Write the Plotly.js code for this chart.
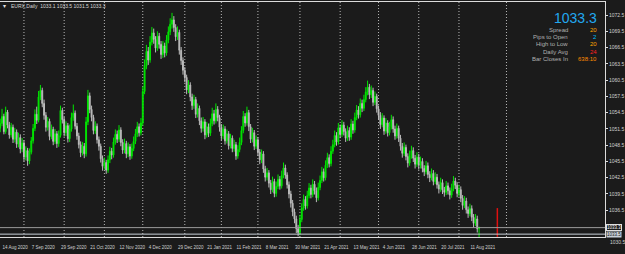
<!DOCTYPE html>
<html><head><meta charset="utf-8">
<script src="https://cdn.plot.ly/plotly-3.0.1.min.js"></script>
<style>html,body{margin:0;padding:0;background:#1b1b1b;overflow:hidden}#chart{width:625px;height:254px}</style>
</head><body><div id="chart"></div>
<script>
// ---- data (EURX daily) ----
const opens = [
1051.6,1052.5,1053.8,1051.0,1054.6,1052.2,1050.4,1051.8,1049.6,1050.9,
1048.7,1049.9,1047.8,1048.9,1046.3,1047.5,1045.6,1047.2,1049.3,1051.6,
1054.2,1053.1,1057.4,1058.6,1056.2,1054.0,1051.8,1052.9,1050.1,1051.4,
1049.2,1050.6,1048.8,1050.3,1054.9,1053.2,1050.8,1052.1,1049.7,1051.5,
1053.6,1054.4,1052.0,1050.2,1048.6,1047.1,1048.3,1046.9,1052.8,1057.6,
1055.1,1053.6,1051.2,1052.0,1049.5,1048.3,1046.0,1044.6,1045.3,1043.9,
1045.8,1047.4,1046.7,1049.1,1050.5,1049.6,1051.3,1049.0,1047.6,1048.8,
1046.9,1048.2,1046.5,1047.9,1049.2,1050.6,1051.9,1050.8,1052.6,1058.4,
1063.1,1065.8,1064.2,1067.5,1069.2,1068.0,1066.4,1068.6,1067.1,1065.2,
1066.8,1065.5,1067.9,1069.4,1070.8,1071.6,1070.2,1068.5,1069.3,1066.0,
1064.1,1062.3,1061.0,1058.7,1059.6,1057.4,1055.8,1056.9,1054.2,1055.3,
1053.0,1051.6,1052.8,1050.4,1051.9,1050.7,1052.5,1054.3,1053.0,1055.1,
1053.6,1051.8,1050.2,1051.5,1049.3,1050.6,1048.4,1049.8,1047.9,1048.6,
1046.5,1047.7,1049.0,1051.2,1053.8,1052.6,1054.5,1051.9,1049.6,1050.8,
1048.3,1049.5,1047.2,1045.8,1046.9,1044.1,1042.6,1043.4,1041.5,1040.3,
1041.8,1039.6,1040.9,1042.2,1041.0,1042.9,1044.3,1043.0,1041.2,1039.5,
1037.8,1036.2,1034.9,1033.1,1032.4,1034.8,1036.9,1038.5,1037.3,1039.2,
1040.6,1039.4,1041.3,1040.1,1038.8,1040.7,1042.0,1043.6,1042.5,1044.8,
1046.2,1045.1,1047.4,1048.6,1050.3,1049.1,1051.7,1050.5,1052.2,1051.0,
1049.8,1051.2,1050.0,1052.4,1051.3,1053.6,1055.0,1054.1,1056.2,1055.3,
1056.9,1058.3,1059.2,1057.8,1058.6,1056.4,1057.5,1055.2,1054.0,1052.3,
1053.5,1051.1,1052.6,1050.8,1051.9,1053.2,1051.5,1050.2,1051.6,1049.8,
1048.3,1047.0,1048.1,1046.4,1045.2,1046.6,1047.5,1046.1,1045.0,1046.3,
1044.8,1045.5,1044.2,1043.6,1044.7,1043.1,1042.5,1043.3,1041.8,1042.6,
1041.2,1040.4,1041.6,1040.2,1039.8,1041.0,1040.1,1039.3,1040.5,1041.9,
1041.1,1039.6,1040.3,1038.7,1037.4,1038.2,1036.6,1035.9,1036.8,1035.2,
1034.1,1034.9,1033.1];
const highs = [
1053.4,1055.2,1054.3,1055.6,1055.0,1052.8,1052.6,1052.3,1051.7,1051.4,
1050.8,1050.5,1049.8,1049.4,1048.3,1048.0,1047.9,1050.0,1052.4,1055.1,
1055.6,1058.5,1059.6,1059.1,1056.9,1054.6,1053.7,1053.4,1052.3,1051.9,
1051.5,1051.1,1051.2,1055.8,1055.4,1053.7,1052.9,1052.6,1052.3,1054.5,
1056.0,1054.9,1052.6,1050.8,1049.2,1049.1,1048.9,1053.7,1058.7,1058.2,
1055.8,1054.1,1052.9,1052.5,1050.1,1048.8,1046.6,1046.2,1045.8,1046.6,
1048.2,1048.0,1049.9,1051.4,1051.2,1052.2,1051.8,1049.6,1049.7,1049.3,
1049.0,1048.7,1048.8,1050.1,1051.5,1052.8,1052.5,1053.5,1059.3,1064.3,
1067.0,1066.6,1068.6,1070.3,1070.0,1068.6,1069.5,1069.2,1067.7,1067.7,
1067.4,1068.8,1070.4,1071.9,1072.9,1072.3,1070.8,1070.4,1069.8,1066.6,
1064.7,1062.9,1061.5,1060.5,1060.1,1058.0,1057.8,1057.4,1056.2,1055.8,
1053.6,1053.7,1053.3,1052.8,1052.5,1053.4,1055.4,1055.0,1056.2,1055.7,
1054.1,1052.4,1052.3,1052.0,1051.4,1051.1,1050.6,1050.3,1049.5,1049.1,
1048.5,1049.9,1052.0,1054.8,1054.4,1055.6,1055.0,1052.4,1051.7,1051.3,
1050.3,1050.0,1047.8,1047.7,1047.4,1044.7,1044.3,1043.9,1042.1,1042.7,
1042.3,1041.8,1043.1,1042.8,1043.8,1045.3,1044.9,1043.5,1041.8,1040.1,
1038.4,1036.8,1035.5,1033.8,1035.6,1037.8,1039.4,1039.1,1040.1,1041.5,
1041.2,1042.2,1041.9,1040.7,1041.6,1042.9,1044.5,1044.2,1045.7,1047.1,
1046.8,1048.3,1049.5,1051.2,1050.9,1052.6,1052.3,1053.1,1052.8,1051.6,
1052.1,1051.8,1053.3,1053.0,1054.5,1055.9,1055.7,1057.1,1056.9,1057.8,
1059.2,1060.4,1059.8,1059.5,1059.1,1058.4,1058.0,1055.8,1054.6,1054.4,
1054.0,1053.5,1053.1,1052.8,1054.1,1053.8,1052.1,1052.5,1052.1,1050.4,
1048.9,1049.0,1048.6,1047.0,1047.5,1048.4,1048.1,1046.7,1047.2,1046.9,
1046.4,1046.1,1044.8,1045.6,1045.3,1043.7,1044.2,1043.9,1043.5,1043.2,
1041.8,1042.5,1042.2,1040.8,1041.9,1041.6,1040.7,1041.4,1042.8,1042.5,
1041.7,1041.2,1040.9,1039.3,1039.1,1038.8,1037.2,1037.7,1037.4,1035.8,
1035.8,1035.5,1033.5];
const lows = [
1050.9,1052.0,1050.5,1050.6,1051.6,1049.7,1049.9,1048.9,1049.0,1048.0,
1048.1,1047.0,1047.2,1045.5,1045.7,1044.7,1045.0,1046.8,1048.8,1051.1,
1052.4,1052.7,1056.8,1055.5,1053.2,1051.0,1051.2,1049.4,1049.6,1048.5,
1048.7,1048.0,1048.2,1049.9,1052.5,1050.1,1050.2,1049.0,1049.1,1051.0,
1053.0,1051.4,1049.5,1047.9,1046.3,1046.6,1046.1,1046.4,1052.2,1054.4,
1052.9,1050.5,1050.6,1048.8,1047.5,1045.3,1043.8,1044.0,1043.2,1043.4,
1045.2,1045.9,1046.2,1048.6,1048.9,1049.1,1048.3,1046.9,1047.0,1046.1,
1046.3,1045.8,1046.0,1047.4,1048.7,1050.0,1050.1,1050.3,1052.1,1057.9,
1062.5,1063.3,1063.7,1066.9,1067.2,1065.6,1065.9,1066.3,1064.4,1064.6,
1064.7,1065.0,1067.3,1068.8,1070.0,1069.4,1067.7,1067.9,1065.2,1063.3,
1061.5,1060.1,1057.9,1058.1,1056.6,1055.0,1055.2,1053.5,1053.6,1052.2,
1050.8,1051.0,1049.6,1049.9,1050.0,1050.2,1052.0,1052.3,1052.5,1052.9,
1051.0,1049.4,1049.6,1048.6,1048.8,1047.7,1047.9,1047.2,1047.3,1045.8,
1046.0,1047.2,1048.5,1050.7,1051.9,1052.1,1051.1,1048.9,1049.0,1047.6,
1047.8,1046.5,1045.0,1045.2,1043.4,1041.8,1042.0,1040.7,1039.5,1039.8,
1038.9,1039.0,1040.4,1040.3,1040.5,1042.4,1042.3,1040.5,1038.7,1037.0,
1035.4,1034.1,1032.3,1031.7,1031.9,1034.3,1036.4,1036.6,1036.8,1038.7,
1038.7,1038.9,1039.4,1038.0,1038.3,1040.2,1041.5,1041.8,1042.0,1044.3,
1044.4,1044.6,1046.9,1048.1,1048.4,1048.6,1049.8,1050.0,1050.3,1049.1,
1049.3,1049.3,1049.5,1050.6,1050.8,1053.1,1053.4,1053.6,1054.6,1054.8,
1056.4,1057.7,1057.0,1057.2,1055.7,1055.9,1054.5,1053.2,1051.5,1051.8,
1050.4,1050.6,1050.1,1050.3,1051.4,1050.8,1049.5,1049.7,1049.1,1047.5,
1046.2,1046.5,1045.7,1044.4,1044.7,1046.0,1045.4,1044.2,1044.5,1044.0,
1044.2,1043.5,1042.8,1043.1,1042.4,1041.7,1042.0,1041.1,1041.3,1040.5,
1039.6,1039.9,1039.5,1039.0,1039.3,1039.4,1038.5,1038.8,1040.0,1040.4,
1038.9,1039.0,1038.0,1036.6,1036.9,1035.9,1035.1,1035.4,1034.5,1033.3,
1033.6,1032.4,1031.5];
const closes = [
1052.5,1053.8,1051.0,1054.6,1052.2,1050.4,1051.8,1049.6,1050.9,1048.7,
1049.9,1047.8,1048.9,1046.3,1047.5,1045.6,1047.2,1049.3,1051.6,1054.2,
1053.1,1057.4,1058.6,1056.2,1054.0,1051.8,1052.9,1050.1,1051.4,1049.2,
1050.6,1048.8,1050.3,1054.9,1053.2,1050.8,1052.1,1049.7,1051.5,1053.6,
1054.4,1052.0,1050.2,1048.6,1047.1,1048.3,1046.9,1052.8,1057.6,1055.1,
1053.6,1051.2,1052.0,1049.5,1048.3,1046.0,1044.6,1045.3,1043.9,1045.8,
1047.4,1046.7,1049.1,1050.5,1049.6,1051.3,1049.0,1047.6,1048.8,1046.9,
1048.2,1046.5,1047.9,1049.2,1050.6,1051.9,1050.8,1052.6,1058.4,1063.1,
1065.8,1064.2,1067.5,1069.2,1068.0,1066.4,1068.6,1067.1,1065.2,1066.8,
1065.5,1067.9,1069.4,1070.8,1071.6,1070.2,1068.5,1069.3,1066.0,1064.1,
1062.3,1061.0,1058.7,1059.6,1057.4,1055.8,1056.9,1054.2,1055.3,1053.0,
1051.6,1052.8,1050.4,1051.9,1050.7,1052.5,1054.3,1053.0,1055.1,1053.6,
1051.8,1050.2,1051.5,1049.3,1050.6,1048.4,1049.8,1047.9,1048.6,1046.5,
1047.7,1049.0,1051.2,1053.8,1052.6,1054.5,1051.9,1049.6,1050.8,1048.3,
1049.5,1047.2,1045.8,1046.9,1044.1,1042.6,1043.4,1041.5,1040.3,1041.8,
1039.6,1040.9,1042.2,1041.0,1042.9,1044.3,1043.0,1041.2,1039.5,1037.8,
1036.2,1034.9,1033.1,1032.4,1034.8,1036.9,1038.5,1037.3,1039.2,1040.6,
1039.4,1041.3,1040.1,1038.8,1040.7,1042.0,1043.6,1042.5,1044.8,1046.2,
1045.1,1047.4,1048.6,1050.3,1049.1,1051.7,1050.5,1052.2,1051.0,1049.8,
1051.2,1050.0,1052.4,1051.3,1053.6,1055.0,1054.1,1056.2,1055.3,1056.9,
1058.3,1059.2,1057.8,1058.6,1056.4,1057.5,1055.2,1054.0,1052.3,1053.5,
1051.1,1052.6,1050.8,1051.9,1053.2,1051.5,1050.2,1051.6,1049.8,1048.3,
1047.0,1048.1,1046.4,1045.2,1046.6,1047.5,1046.1,1045.0,1046.3,1044.8,
1045.5,1044.2,1043.6,1044.7,1043.1,1042.5,1043.3,1041.8,1042.6,1041.2,
1040.4,1041.6,1040.2,1039.8,1041.0,1040.1,1039.3,1040.5,1041.9,1041.1,
1039.6,1040.3,1038.7,1037.4,1038.2,1036.6,1035.9,1036.8,1035.2,1034.1,
1034.9,1033.1,1033.3];

const dateLabels = ['14 Aug 2020','7 Sep 2020','29 Sep 2020','21 Oct 2020','12 Nov 2020','4 Dec 2020',
  '29 Dec 2020','21 Jan 2021','11 Feb 2021','8 Mar 2021','30 Mar 2021','21 Apr 2021','13 May 2021',
  '4 Jun 2021','28 Jun 2021','20 Jul 2021','11 Aug 2021'];
const dateLabelBars = [1,17,33,49,65,81,97,113,129,145,161,177,193,209,225,241,257];
const priceTicks = [1036.5,1039.5,1042.5,1045.5,1048.5,1051.5,1054.5,1057.5,1060.5,1063.5,1066.5,1069.5,1072.5];
const monthStartBars = [13,35,57,78,101,121,141,164,186,207,229,251,277];

const symbolName = 'EURX,Daily';
const lastOHLC = [1033.1, 1033.5, 1031.5, 1033.3];
const bidPrice = 1033.3;
const lowerLinePrice = 1032.1;
const lowerLineLabel = '1033.5';
const extraAxisLabel = 1030.5;
const redRangeBar = 272;
const redRange = [1031.6, 1036.9];
const infoLabels = ['Spread','Pips to Open','High to Low','Daily Avg','Bar Closes In'];
const infoValues = ['20','2','20','24','638:10'];
const infoColors = ['#ffa500','#00bfff','#ffa500','#ff2020','#ff8c00'];

// ---- drawing ----
const bars = closes.map((_, i) => i);
const W = 625, H = 254, ML = 0, MR = 20, MT = 2, MB = 17;
const PW = W - ML - MR, PH = H - MT - MB;
const px = x => (x - ML) / PW;
const py = y => 1 - (y - MT) / PH;
const FONT = 'Liberation Sans, Arial, sans-serif';

const traces = [
  {type:'candlestick', x: bars, open: opens, high: highs, low: lows, close: closes,
   increasing:{line:{color:'#00e600', width:1}, fillcolor:'#00e600'},
   decreasing:{line:{color:'#bcbcbc', width:1}, fillcolor:'#bcbcbc'},
   whiskerwidth:0, hoverinfo:'skip', showlegend:false},
  {type:'scatter', mode:'lines', x:[redRangeBar, redRangeBar], y: redRange,
   line:{color:'#e01010', width:1.5}, hoverinfo:'skip', showlegend:false}
];

const shapes = monthStartBars.map(b => ({type:'line', xref:'x', yref:'paper', x0:b, x1:b, y0:0, y1:1,
  line:{color:'#b8b8b8', width:1, dash:'1px,2px'}, layer:'below'}));
shapes.push({type:'line', xref:'paper', yref:'y', x0:0, x1:1, y0:bidPrice, y1:bidPrice, line:{color:'#9a9a9a', width:1}});
shapes.push({type:'line', xref:'paper', yref:'y', x0:0, x1:1, y0:lowerLinePrice, y1:lowerLinePrice, line:{color:'#c8d0d8', width:1}});

const ann = [];
ann.push({xref:'paper', yref:'paper', x:px(1), y:py(6), xanchor:'left', yanchor:'middle', showarrow:false,
  text:'▾', font:{family:FONT, size:6, color:'#e0e0e0'}});
ann.push({xref:'paper', yref:'paper', x:px(9), y:py(6), xanchor:'left', yanchor:'middle', showarrow:false,
  text: symbolName + '  ' + lastOHLC.map(v => v.toFixed(1)).join(' '), font:{family:FONT, size:5, color:'#d8d8d8'}});
ann.push({xref:'paper', yref:'paper', x:px(598), y:py(18), xanchor:'right', yanchor:'middle', showarrow:false,
  borderpad:0, text: bidPrice.toFixed(1), font:{family:FONT, size:14, color:'#22a8f0'}});
infoLabels.forEach((t, k) => {
  const yy = 30 + k * 7.2;
  ann.push({xref:'paper', yref:'paper', x:px(569), y:py(yy), xanchor:'right', yanchor:'middle', showarrow:false,
    borderpad:0, text:t, font:{family:FONT, size:6, color:'#b0b0b0'}});
  ann.push({xref:'paper', yref:'paper', x:px(598), y:py(yy), xanchor:'right', yanchor:'middle', showarrow:false,
    borderpad:0, text:infoValues[k], font:{family:FONT, size:6, color:infoColors[k]}});
});
ann.push({xref:'paper', yref:'y', x:px(606), y:bidPrice, xanchor:'left', yanchor:'middle', showarrow:false,
  text: bidPrice.toFixed(1), font:{family:FONT, size:4.5, color:'#ffffff'}, bgcolor:'#1b1b1b', bordercolor:'#e0e0e0', borderwidth:1, borderpad:0});
ann.push({xref:'paper', yref:'y', x:px(606), y:lowerLinePrice, xanchor:'left', yanchor:'middle', showarrow:false,
  text: lowerLineLabel, font:{family:FONT, size:4.5, color:'#101010'}, bgcolor:'#c8d0d8', borderpad:0});
ann.push({xref:'paper', yref:'paper', x:px(608), y:py(242), xanchor:'left', yanchor:'middle', showarrow:false,
  text: extraAxisLabel.toFixed(1), font:{family:FONT, size:5, color:'#d0d0d0'}});

const layout = {
  width:W, height:H, margin:{l:ML, r:MR, t:MT, b:MB, pad:0},
  paper_bgcolor:'#1b1b1b', plot_bgcolor:'#1b1b1b',
  showlegend:false, dragmode:false, hovermode:false,
  xaxis:{type:'linear', range:[-0.11, 330.9], rangeslider:{visible:false},
    tickmode:'array', tickvals:dateLabelBars, ticktext:dateLabels, ticklabelposition:'outside right',
    tickangle:0, ticks:'', ticklabelstandoff:6,
    tickfont:{family:FONT, size:4.5, color:'#d0d0d0'}, showgrid:false, zeroline:false,
    showline:true, linecolor:'#dcdcdc', linewidth:1, mirror:true, fixedrange:true},
  yaxis:{side:'right', range:[1031.57, 1074.9], tickmode:'array', tickvals:priceTicks,
    ticktext: priceTicks.map(v => v.toFixed(1)),
    ticks:'outside', ticklen:2, tickcolor:'#dcdcdc', tickfont:{family:FONT, size:5, color:'#d0d0d0'},
    showgrid:false, zeroline:false, showline:true, linecolor:'#dcdcdc', linewidth:1, mirror:true, fixedrange:true},
  shapes: shapes, annotations: ann
};
Plotly.newPlot('chart', traces, layout, {staticPlot:true, displayModeBar:false});
</script></body></html>
